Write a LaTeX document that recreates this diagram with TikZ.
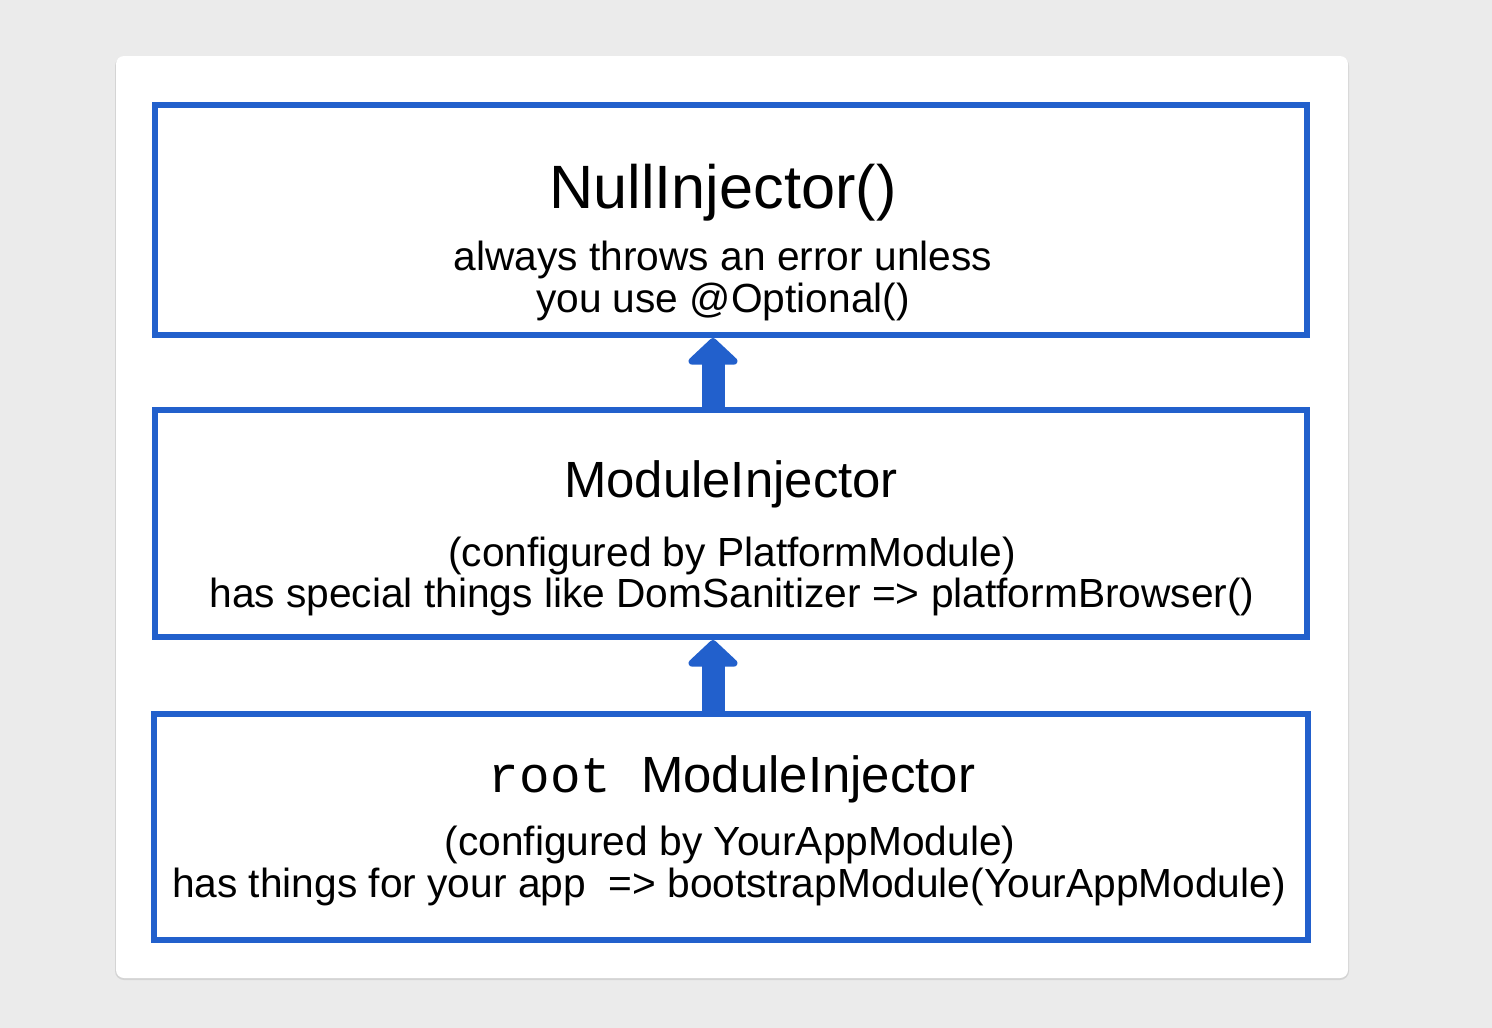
\documentclass[tikz,border=0pt]{standalone}
\usepackage{fontspec}
\setmainfont{Liberation Sans}
\setmonofont{Liberation Mono}
\usepackage{xcolor}
\usepackage{tikz}
\usetikzlibrary{arrows.meta,positioning}

\definecolor{injblue}{RGB}{34,96,204}
\definecolor{pagegray}{RGB}{235,235,235}
\definecolor{cardshadow}{RGB}{212,212,212}

\begin{document}
\begin{tikzpicture}[
  x=1pt,
  y=-1pt,
  injbox/.style={draw=injblue, line width=6pt, fill=white, inner sep=0pt, minimum width=1152pt},
  bigname/.style={font=\fontsize{61.2}{72}\selectfont, anchor=base},
  modname/.style={font=\fontsize{50.9}{60}\selectfont, anchor=base},
  note/.style={font=\fontsize{40.7}{48}\selectfont, anchor=base},
  uparrow/.style={draw=injblue, line width=23pt, -{Triangle[length=28pt, width=58pt, round]}}
]
\fill[pagegray] (0,0) rectangle (1492,1028);
\useasboundingbox (0,0) rectangle (1492,1028);
\fill[cardshadow, rounded corners=9pt] (115,57) rectangle (1349,980);
\fill[white, rounded corners=8pt] (116,56) rectangle (1348,978);

\node[injbox, minimum height=230pt] (null) at (731,220) {};
\node[bigname] (nulltitle) at (723,208) {NullInjector()};
\node[note] (nullline1) at (723,270) {always throws an error unless};
\node[note] (nullline2) at (723,312) {you use @Optional()};

\node[injbox, minimum height=227pt] (module) at (731,523.5) {};
\node[modname] (moduletitle) at (731,497) {ModuleInjector};
\node[note] (moduleline1) at (732,566) {(configured by PlatformModule)};
\node[note] (moduleline2) at (732,607) {has special things like DomSanitizer => platformBrowser()};

\node[injbox, minimum width=1154pt, minimum height=226pt] (root) at (731,827) {};
\node[modname] (roottitle) at (732,792) {{\ttfamily root}\hspace{30pt}ModuleInjector};
\node[note] (rootline1) at (730,855) {(configured by YourAppModule)};
\node[note] (rootline2) at (729,897) {has things for your app\ \ => bootstrapModule(YourAppModule)};

\draw[uparrow] ([xshift=-18pt]module.north) -- ([xshift=-18pt]null.south);
\draw[uparrow] ([xshift=-18pt]root.north) -- ([xshift=-18pt]module.south);
\end{tikzpicture}
\end{document}
